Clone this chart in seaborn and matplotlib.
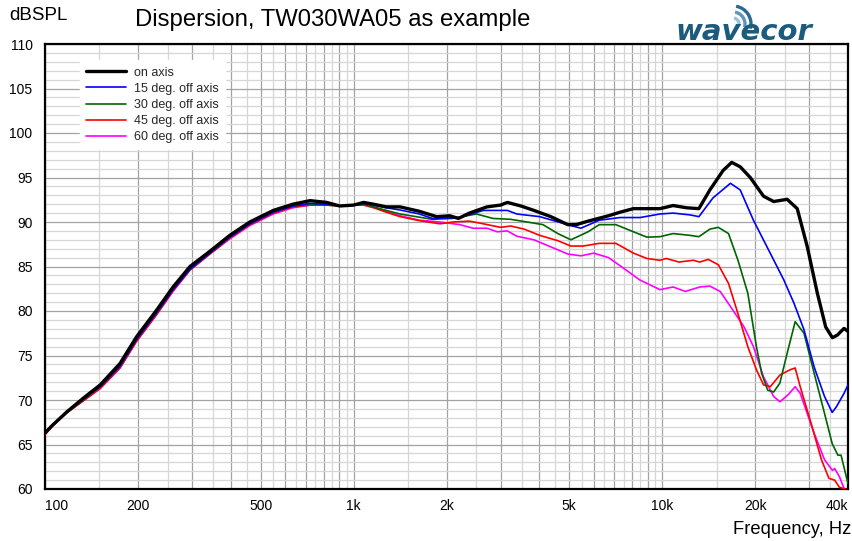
import matplotlib
matplotlib.use("Agg")
import matplotlib.pyplot as plt
import matplotlib.transforms as mtransforms
from matplotlib.patches import Arc
import seaborn as sns

# ---------------- data ----------------
freq_on = [100, 106, 118, 133, 151, 175, 198, 230, 260, 295, 342, 397, 461, 549, 636, 723, 818, 901,
           1000, 1077, 1160, 1276, 1414, 1634, 1857, 2050, 2186, 2372, 2706, 2992, 3150, 3483, 3843,
           4357, 4945, 5266, 5755, 6700, 7300, 8066, 8473, 9835, 10850, 11980, 13150, 14270, 15760,
           16800, 17900, 19290, 21300, 22970, 25400, 27390, 29530, 31820, 33870, 35600, 36960, 38840, 40000]
spl_on = [66.3, 67.2, 68.7, 70.2, 71.7, 74.1, 77.1, 80.1, 82.7, 85.0, 86.7, 88.5, 90.0, 91.3, 92.0, 92.4,
          92.2, 91.8, 91.9, 92.2, 92.0, 91.7, 91.7, 91.2, 90.6, 90.7, 90.4, 91.0, 91.7, 91.9, 92.2, 91.8,
          91.3, 90.6, 89.7, 89.7, 90.1, 90.7, 91.1, 91.5, 91.5, 91.5, 91.85, 91.6, 91.5, 93.6, 95.8, 96.7,
          96.2, 95.0, 92.9, 92.3, 92.55, 91.5, 87.2, 82.0, 78.2, 77.0, 77.3, 78.05, 77.7]

freq_15 = [100, 106, 118, 133, 151, 175, 198, 230, 260, 295, 342, 397, 461, 549, 636, 723, 818, 901,
           1000, 1077, 1160, 1276, 1414, 1634, 1800, 2210, 2630, 3150, 3380, 4010, 4945, 5450, 6250,
           7300, 8473, 9835, 10850, 12300, 13150, 14600, 16640, 17900, 19750, 21570, 24770, 26710,
           28800, 31080, 33570, 35550, 36700, 38840, 40000]
spl_15 = [66.3, 67.2, 68.7, 70.1, 71.5, 73.8, 76.8, 79.8, 82.4, 84.7, 86.5, 88.3, 89.8, 91.1, 91.8, 92.1,
          92.0, 91.8, 91.9, 92.1, 91.9, 91.6, 91.35, 90.9, 90.4, 90.5, 91.3, 91.3, 90.9, 90.6, 89.7, 89.3,
          90.2, 90.5, 90.5, 90.9, 91.0, 90.8, 90.6, 92.7, 94.35, 93.6, 90.2, 87.6, 83.5, 80.9, 77.9, 73.7,
          70.4, 68.6, 69.25, 70.75, 71.7]

freq_30 = [100, 106, 118, 133, 151, 175, 198, 230, 260, 295, 342, 397, 461, 549, 636, 723, 818, 901,
           1000, 1077, 1160, 1276, 1414, 1800, 2090, 2500, 2830, 3230, 3650, 4110, 4590, 5060, 5750,
           6250, 7080, 8070, 8920, 9835, 10850, 12300, 13150, 14270, 15200, 16400, 17600, 18940, 20200,
           21000, 21970, 22970, 24060, 25400, 26970, 28800, 31080, 33570, 35550, 37090, 37980, 40000]
spl_30 = [66.3, 67.2, 68.6, 70.0, 71.5, 73.8, 76.8, 79.8, 82.4, 84.7, 86.5, 88.3, 89.8, 91.1, 91.8, 92.0,
          91.9, 91.8, 91.9, 92.0, 91.7, 91.3, 90.9, 90.3, 90.4, 90.9, 90.4, 90.3, 90.0, 89.7, 88.7, 88.0,
          88.9, 89.7, 89.7, 88.9, 88.3, 88.35, 88.7, 88.5, 88.35, 89.2, 89.4, 88.7, 85.7, 82.0, 76.0, 73.0,
          71.1, 70.9, 71.9, 75.25, 78.8, 77.5, 73.0, 68.5, 65.1, 63.8, 63.8, 60.6]

freq_45 = [100, 106, 118, 133, 151, 175, 198, 230, 260, 295, 342, 397, 461, 549, 636, 723, 818, 901,
           1000, 1077, 1160, 1276, 1414, 1634, 1905, 2100, 2372, 2630, 2990, 3230, 3570, 4010, 4590,
           5060, 5550, 6250, 7080, 8070, 8920, 9835, 10310, 11340, 12600, 13240, 14100, 15200, 16400,
           17600, 18940, 20200, 21300, 22400, 24060, 25970, 26970, 28000, 30360, 32800, 34700, 36200,
           37500, 40000]
spl_45 = [66.1, 67.1, 68.6, 69.9, 71.3, 73.6, 76.6, 79.6, 82.3, 84.6, 86.4, 88.2, 89.7, 91.0, 91.7, 91.9,
          91.9, 91.8, 91.9, 91.9, 91.6, 91.1, 90.6, 90.15, 89.8, 90.0, 90.1, 89.8, 89.4, 89.55, 89.2, 88.5,
          87.9, 87.3, 87.3, 87.6, 87.6, 86.5, 85.9, 85.7, 85.9, 85.5, 85.7, 85.5, 85.8, 85.2, 83.1, 79.7,
          76.0, 73.4, 71.7, 71.5, 72.8, 73.4, 73.6, 71.5, 67.4, 63.3, 61.2, 61.0, 60.2, 59.9]

freq_60 = [100, 106, 118, 133, 151, 175, 198, 230, 260, 295, 342, 397, 461, 549, 636, 723, 818, 901,
           1000, 1077, 1160, 1276, 1414, 1634, 1905, 2210, 2440, 2706, 2920, 3150, 3380, 3840, 4360,
           4945, 5450, 6000, 6700, 7500, 8450, 9835, 10850, 11880, 13240, 14270, 15410, 16640, 18430,
           19750, 21300, 22970, 24060, 25610, 26970, 28000, 31080, 33570, 35600, 36200, 37500, 39000]
spl_60 = [66.3, 67.2, 68.6, 69.9, 71.3, 73.6, 76.6, 79.6, 82.2, 84.6, 86.4, 88.1, 89.6, 90.9, 91.6, 91.9,
          92.0, 91.8, 91.9, 92.0, 91.7, 91.2, 90.7, 90.2, 90.0, 89.7, 89.3, 89.3, 88.9, 89.0, 88.4, 88.0,
          87.2, 86.4, 86.2, 86.5, 86.0, 84.8, 83.5, 82.4, 82.7, 82.2, 82.7, 82.8, 82.2, 80.5, 78.2, 76.0,
          72.6, 70.4, 69.8, 70.6, 71.5, 70.75, 66.25, 63.3, 62.1, 62.3, 61.4, 59.9]

series_labels = ["on axis", "15 deg. off axis", "30 deg. off axis", "45 deg. off axis", "60 deg. off axis"]
series_colors = ["#000000", "#0000ff", "#006400", "#ff0000", "#ff00ff"]

x_tick_values = [100, 200, 500, 1000, 2000, 5000, 10000, 20000, 40000]
x_tick_labels = ["100", "200", "500", "1k", "2k", "5k", "10k", "20k", "40k"]
y_tick_values = [60, 65, 70, 75, 80, 85, 90, 95, 100, 105, 110]

# ---------------- style ----------------
sns.set_theme(style="white")
plt.rcParams['font.family'] = ['Liberation Sans', 'DejaVu Sans']

fig = plt.figure(figsize=(8.52, 5.41), dpi=100)
ax = fig.add_axes([45 / 852, 1 - 489 / 541, 803 / 852, 445 / 541])

data = [(freq_on, spl_on), (freq_15, spl_15), (freq_30, spl_30), (freq_45, spl_45), (freq_60, spl_60)]
widths = [2.4, 1.2, 1.2, 1.2, 1.2]
zorders = [10, 6, 5, 4, 3]
for (f, s), lab, col, lw, zo in zip(data, series_labels, series_colors, widths, zorders):
    sns.lineplot(x=f, y=s, ax=ax, color=col, linewidth=lw, label=lab, sort=False,
                 estimator=None, zorder=zo)

ax.set_xscale('log')
ax.set_xlim(100, 40000)
ax.set_ylim(60, 110)

# grid positions
major_x = list(range(100, 1001, 100)) + list(range(2000, 10001, 1000)) + [20000, 30000, 40000]
minor_x = list(range(150, 1000, 100)) + list(range(1500, 10000, 1000)) + [15000, 25000, 35000]
ax.set_xticks(major_x)
ax.set_xticks(minor_x, minor=True)
lab_map = dict(zip(x_tick_values, x_tick_labels))
ax.set_xticklabels([lab_map.get(v, "") for v in major_x])
ax.set_xticklabels([], minor=True)
ax.set_yticks(y_tick_values)
ax.set_yticks(list(range(60, 111)), minor=True)
ax.set_yticklabels([str(v) for v in y_tick_values])
ax.set_yticklabels([], minor=True)

ax.grid(True, which='minor', color='#d6d6d6', linewidth=0.9)
ax.grid(True, which='major', color='#a3a3a3', linewidth=0.9)
ax.set_axisbelow(True)
ax.tick_params(axis='both', which='both', length=0, labelsize=10, colors='black')
ax.tick_params(axis='x', pad=7)
ax.tick_params(axis='y', pad=9)
ax.set_xlabel("")
ax.set_ylabel("")

xl = ax.get_xticklabels()
xl[0].set_horizontalalignment('left')
xl[-1].set_horizontalalignment('right')

for sp in ax.spines.values():
    sp.set_visible(True)
    sp.set_color('black')
    sp.set_linewidth(1.6)

handles, labels = ax.get_legend_handles_labels()
leg = ax.legend(handles, labels, loc='upper left', bbox_to_anchor=(0.0436, 0.963),
                borderaxespad=0, frameon=True, fancybox=False, edgecolor='white',
                facecolor='white', framealpha=1, fontsize=9, handlelength=3.2,
                handletextpad=0.6, labelspacing=0.33, borderpad=0.5)
leg.set_zorder(20)

# texts
fig.text(333 / 852, 1 - 20 / 541, "Dispersion, TW030WA05 as example", ha='center', va='center',
         fontsize=17.2, color='black')
fig.text(9 / 852, 1 - 15 / 541, "dBSPL", ha='left', va='center', fontsize=13.5, color='black')
fig.text(851 / 852, 1 - 530 / 541, "Frequency, Hz", ha='right', va='center', fontsize=13.2,
         color='black')

# logo
fig.text(675 / 852, 1 - 40 / 541, "wavecor", ha='left', va='baseline', fontsize=21,
         style='italic', weight='bold', color='#1b5b7e', family='DejaVu Sans')
ident = mtransforms.IdentityTransform()
for r, c in zip([6, 12, 18], ['#9cc3dc', '#5f95b9', '#2a6a92']):
    fig.patches.append(Arc((733, 541 - 24), 2 * r, 2 * r, theta1=-15, theta2=80,
                           transform=ident, color=c, linewidth=2.4))

fig.savefig("out.png", dpi=100)
